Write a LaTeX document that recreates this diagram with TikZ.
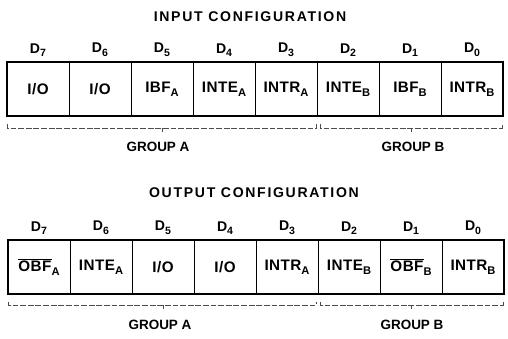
\documentclass[tikz,border=0pt]{standalone}
\usepackage{fontspec}
\setmainfont{Liberation Sans}
\newfontfamily\regfont[LetterSpace=3]{Liberation Sans}
\newfontfamily\titlefont[LetterSpace=12]{Liberation Sans}
\usetikzlibrary{positioning}

% lowered subscripts as in the data sheet
\newcommand{\bitsub}[1]{\raisebox{-3.5pt}{\fontsize{9.5}{10}\selectfont #1}}
\newcommand{\dsub}[1]{\raisebox{-3pt}{\fontsize{9}{10}\selectfont #1}}
\newcommand{\barname}[1]{$\overline{\mbox{#1}}$}

\tikzset{
	bitcell/.style={draw, line width=0.5pt, minimum width=1.86cm, minimum height=1.62cm,
		inner sep=0pt, outer sep=0pt, font=\regfont\bfseries\fontsize{13}{15}\selectfont},
	bitname/.style={font=\bfseries\fontsize{12}{14}\selectfont, inner sep=1pt},
	regframe/.style={line width=1.4pt},
	groupline/.style={line width=0.4pt, dash pattern=on 5pt off 1.5pt, black!70},
	grouplabel/.style={font=\bfseries\fontsize{11.5}{13}\selectfont},
	regtitle/.style={font=\titlefont\bfseries\fontsize{12}{14}\selectfont}
}

\begin{document}
\begin{tikzpicture}[x=0.03cm, y=-0.03cm]
			\useasboundingbox (0,0) rectangle (508,338);
			
			% input configuration
			\node[regtitle] (intitle) at (250,17) {INPUT CONFIGURATION};
			\node[bitcell] (i7) at (38,89) {I/O};
			\node[bitcell, right=0pt of i7] (i6) {I/O};
			\node[bitcell, right=0pt of i6] (i5) {IBF\bitsub{A}};
			\node[bitcell, right=0pt of i5] (i4) {INTE\bitsub{A}};
			\node[bitcell, right=0pt of i4] (i3) {INTR\bitsub{A}};
			\node[bitcell, right=0pt of i3] (i2) {INTE\bitsub{B}};
			\node[bitcell, right=0pt of i2] (i1) {IBF\bitsub{B}};
			\node[bitcell, right=0pt of i1] (i0) {INTR\bitsub{B}};
			\draw[regframe] (i7.north west) rectangle (i0.south east);
			\node[bitname, above=0.12cm of i7] (id7) {D\dsub{7}};
			\node[bitname, above=0.12cm of i6] (id6) {D\dsub{6}};
			\node[bitname, above=0.12cm of i5] (id5) {D\dsub{5}};
			\node[bitname, above=0.12cm of i4] (id4) {D\dsub{4}};
			\node[bitname, above=0.12cm of i3] (id3) {D\dsub{3}};
			\node[bitname, above=0.12cm of i2] (id2) {D\dsub{2}};
			\node[bitname, above=0.12cm of i1] (id1) {D\dsub{1}};
			\node[bitname, above=0.12cm of i0] (id0) {D\dsub{0}};
			
			\draw[groupline] (7,124) -- (7,128) -- (316,128) -- (316,124);
			\draw[groupline] (162,128) -- (162,132);
			\draw[groupline] (320,124) -- (320,128) -- (502,128) -- (502,124);
			\draw[groupline] (411,128) -- (411,132);
			\node[grouplabel] (inga) at (158,147) {GROUP A};
			\node[grouplabel] (ingb) at (413,147) {GROUP B};
			
			% output configuration
			\node[regtitle] (outtitle) at (254,193) {OUTPUT CONFIGURATION};
			\node[bitcell] (o7) at (39,267) {\barname{OBF}\bitsub{A}};
			\node[bitcell, right=0pt of o7] (o6) {INTE\bitsub{A}};
			\node[bitcell, right=0pt of o6] (o5) {I/O};
			\node[bitcell, right=0pt of o5] (o4) {I/O};
			\node[bitcell, right=0pt of o4] (o3) {INTR\bitsub{A}};
			\node[bitcell, right=0pt of o3] (o2) {INTE\bitsub{B}};
			\node[bitcell, right=0pt of o2] (o1) {\barname{OBF}\bitsub{B}};
			\node[bitcell, right=0pt of o1] (o0) {INTR\bitsub{B}};
			\draw[regframe] (o7.north west) rectangle (o0.south east);
			\node[bitname, above=0.12cm of o7] (od7) {D\dsub{7}};
			\node[bitname, above=0.12cm of o6] (od6) {D\dsub{6}};
			\node[bitname, above=0.12cm of o5] (od5) {D\dsub{5}};
			\node[bitname, above=0.12cm of o4] (od4) {D\dsub{4}};
			\node[bitname, above=0.12cm of o3] (od3) {D\dsub{3}};
			\node[bitname, above=0.12cm of o2] (od2) {D\dsub{2}};
			\node[bitname, above=0.12cm of o1] (od1) {D\dsub{1}};
			\node[bitname, above=0.12cm of o0] (od0) {D\dsub{0}};
			
			\draw[groupline] (8,302) -- (8,305) -- (316,305) -- (316,302);
			\draw[groupline] (163,305) -- (163,309);
			\draw[groupline] (320,302) -- (320,305) -- (503,305) -- (503,302);
			\draw[groupline] (411,305) -- (411,309);
			\node[grouplabel] (outga) at (160,325) {GROUP A};
			\node[grouplabel] (outgb) at (412,325) {GROUP B};
\end{tikzpicture}
\end{document}
